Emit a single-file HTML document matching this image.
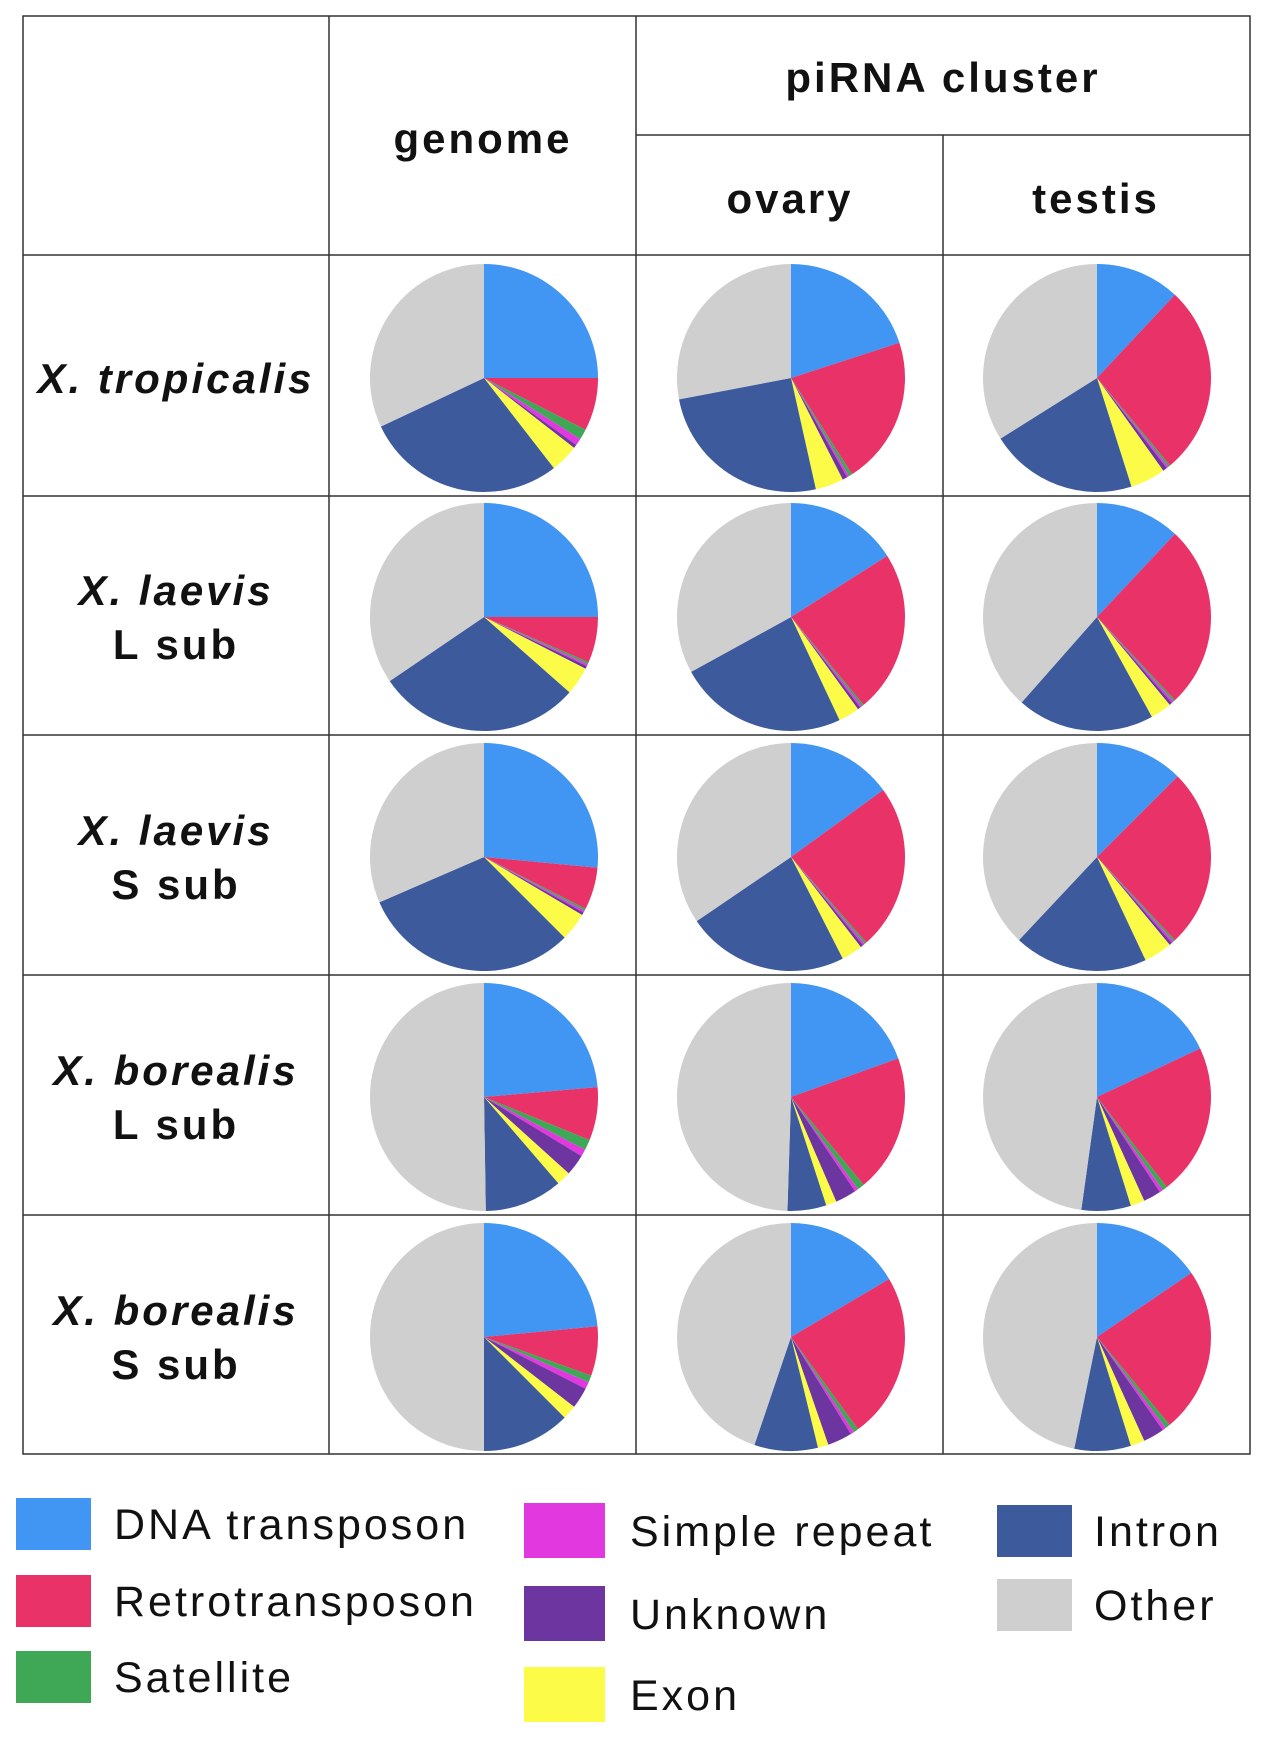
<!DOCTYPE html>
<html><head><meta charset="utf-8">
<style>
html,body{margin:0;padding:0;background:#fff;}
body{width:1266px;height:1746px;position:relative;overflow:hidden;font-family:"Liberation Sans",sans-serif;}
svg{position:absolute;left:0;top:0;}
</style></head>
<body>
<svg id="chart" width="1266" height="1746">
<g stroke="#333" stroke-width="1.5" fill="none">
<rect x="23" y="16" width="1227" height="1438"/>
<line x1="329" y1="16" x2="329" y2="1454"/>
<line x1="636" y1="16" x2="636" y2="1454"/>
<line x1="943" y1="135" x2="943" y2="1454"/>
<line x1="636" y1="135" x2="1250" y2="135"/>
<line x1="23" y1="255" x2="1250" y2="255"/>
<line x1="23" y1="496" x2="1250" y2="496"/>
<line x1="23" y1="735" x2="1250" y2="735"/>
<line x1="23" y1="975" x2="1250" y2="975"/>
<line x1="23" y1="1215" x2="1250" y2="1215"/>
</g>
<g font-weight="bold" font-size="42" text-anchor="middle" fill="#111" letter-spacing="3">
<text x="483" y="153">genome</text>
<text x="943" y="92">piRNA cluster</text>
<text x="790" y="213">ovary</text>
<text x="1096" y="213">testis</text>
<text x="176" y="393" font-style="italic">X. tropicalis</text>
<text x="176" y="605" font-style="italic">X. laevis</text>
<text x="176" y="659">L sub</text>
<text x="176" y="845" font-style="italic">X. laevis</text>
<text x="176" y="899">S sub</text>
<text x="176" y="1085" font-style="italic">X. borealis</text>
<text x="176" y="1139">L sub</text>
<text x="176" y="1325" font-style="italic">X. borealis</text>
<text x="176" y="1379">S sub</text>
</g>
<g id="pies"></g>
<g id="legend" font-size="43" fill="#111" letter-spacing="3"></g>
</svg>
<script>
const categories = ["DNA transposon","Retrotransposon","Satellite","Simple repeat","Unknown","Exon","Intron","Other"];
const colors = ["#4096f2","#e83268","#3fa857","#e238e0","#6c35a0","#fbfb48","#3d5b9c","#d0cfd0"];
const rowsLabels = ["tropicalis","laevis-l","laevis-s","borealis-l","borealis-s"];
const colLabels = ["genome","ovary","testis"];
const tropGenome = [25,7.5,1.5,1,0.5,4,28.5,32];
const tropOvary = [20,21,0.5,0.3,0.7,4,25.5,28];
const tropTestis = [12,27,0.3,0.3,0.6,5,21,34];
const laevLGenome = [25,6.5,0.3,0.3,0.4,4,29,34.5];
const laevLOvary = [16,23,0.3,0.3,0.4,3,24,33];
const laevLTestis = [12,26,0.3,0.3,0.4,3,19.5,38.5];
const laevSGenome = [26.5,6,0.3,0.3,0.4,4,31,31.5];
const laevSOvary = [15,23.5,0.3,0.3,0.4,3,23,34.5];
const laevSTestis = [12.5,25.5,0.3,0.3,0.4,4,19,38];
const borLGenome = [23.5,7.5,1.5,1,3,2,11,50];
const borLOvary = [19.5,19.5,1,0.5,3,1.5,5.5,49.5];
const borLTestis = [18,21.5,0.7,0.5,2.5,2,7,47.8];
const borSGenome = [23.5,7,1,1,3,2,12.5,50];
const borSOvary = [16.5,23.5,0.7,0.5,3.5,1.5,9,44.8];
const borSTestis = [15.5,23.5,0.7,0.5,3,2,8,46.8];
const pieData = [[tropGenome,tropOvary,tropTestis],[laevLGenome,laevLOvary,laevLTestis],[laevSGenome,laevSOvary,laevSTestis],[borLGenome,borLOvary,borLTestis],[borSGenome,borSOvary,borSTestis]];

const NS="http://www.w3.org/2000/svg";
const colX=[484,791,1097], rowY=[378,617,857,1097,1337], R=114;
const pies=document.getElementById('pies');
function pt(cx,cy,a){return [cx+R*Math.sin(a), cy-R*Math.cos(a)];}
pieData.forEach((row,ri)=>row.forEach((vals,ci)=>{
  const g=document.createElementNS(NS,'g');
  
  
  const tot=vals.reduce((a,b)=>a+b,0);
  let a0=0; const cx=colX[ci], cy=rowY[ri];
  vals.forEach((v,k)=>{
    const a1=a0+v/tot*2*Math.PI;
    const p0=pt(cx,cy,a0), p1=pt(cx,cy,a1);
    const p=document.createElementNS(NS,'path');
    p.setAttribute('d',`M${cx},${cy}L${p0[0]},${p0[1]}A${R},${R} 0 ${a1-a0>Math.PI?1:0} 1 ${p1[0]},${p1[1]}Z`);
    p.setAttribute('fill',colors[k]);
    
    
    g.appendChild(p); a0=a1;
  });
  pies.appendChild(g);
}));
const legX=[16,524,997], legTX=[114,630,1094];
const legPos=[[0,1498],[0,1575],[0,1651],[1,1503],[1,1586],[1,1667],[2,1505],[2,1579]];
const leg=document.getElementById('legend');
categories.forEach((c,k)=>{
  const [col,y]=legPos[k];
  const g=document.createElementNS(NS,'g');
  
  
  const r=document.createElementNS(NS,'rect');
  r.setAttribute('x',legX[col]); r.setAttribute('y',y);
  r.setAttribute('width',col===1?81:75); r.setAttribute('height',col===1?55:52);
  r.setAttribute('fill',colors[k]);
  const t=document.createElementNS(NS,'text');
  t.setAttribute('x',legTX[col]); t.setAttribute('y',y+(col===1?43:41));
  t.textContent=c;
  g.appendChild(r); g.appendChild(t); leg.appendChild(g);
});
</script>
</body></html>
